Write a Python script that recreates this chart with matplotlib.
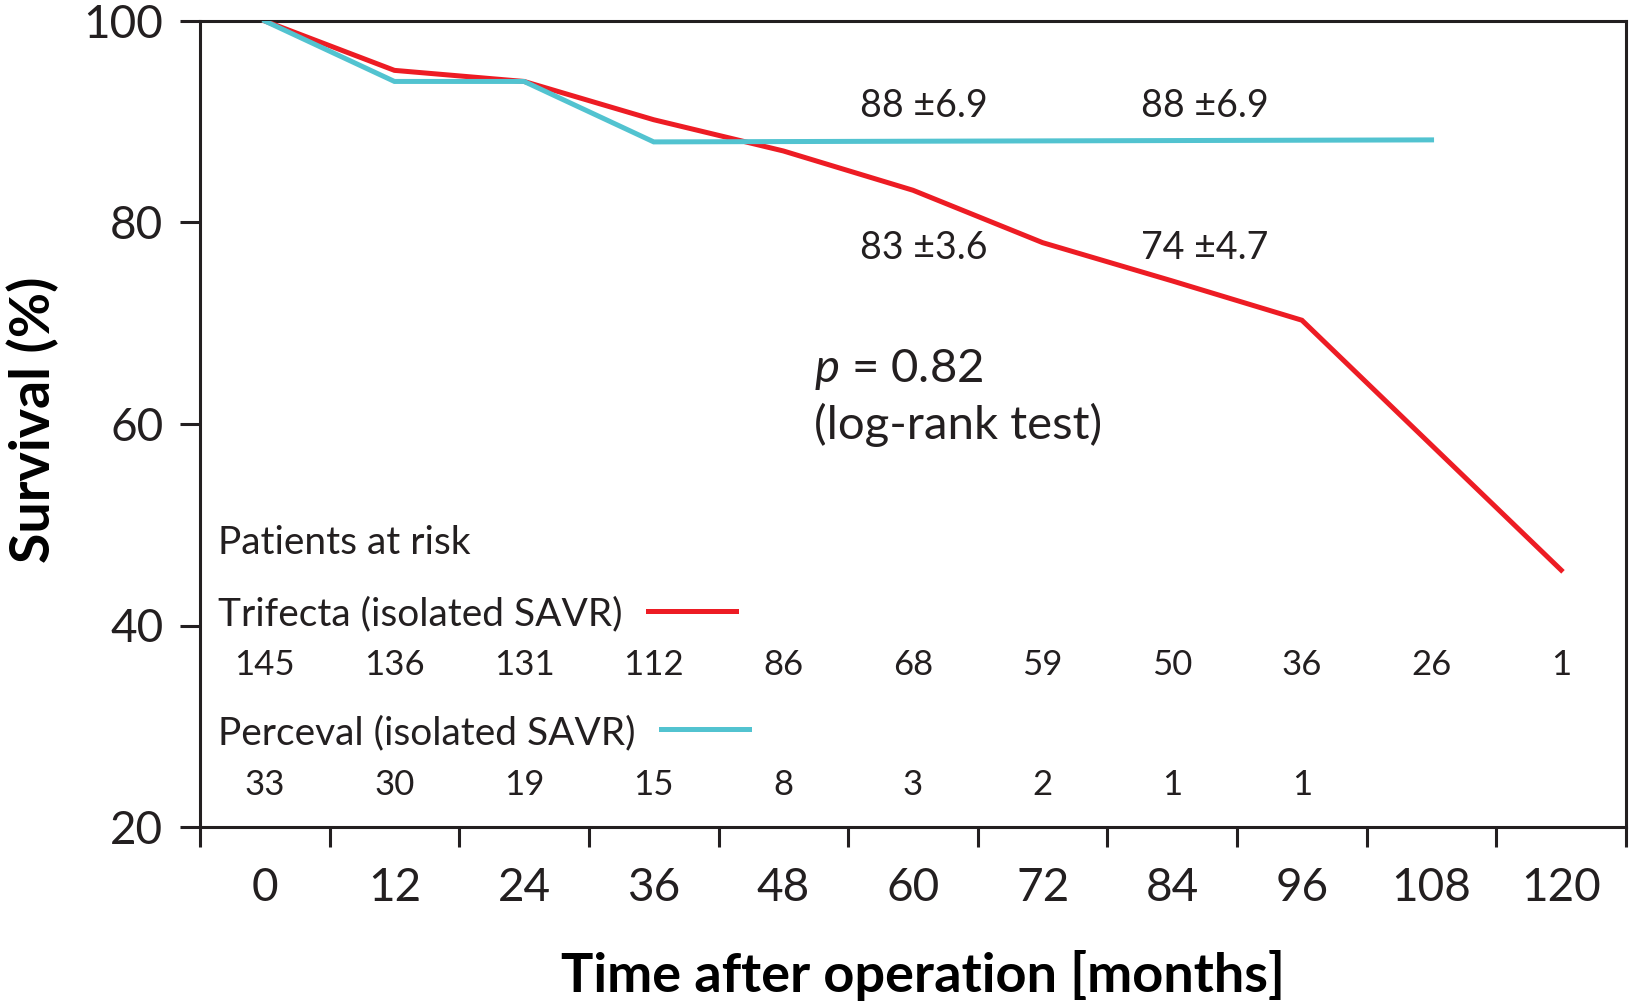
import matplotlib
matplotlib.use('Agg')
import matplotlib.pyplot as plt
from matplotlib.lines import Line2D
from matplotlib.ticker import FixedLocator, NullFormatter

# Kaplan-Meier curves (months, survival %)
trifecta_months = [0, 12, 24, 36, 48, 60, 72, 84, 96, 120]
trifecta_surv = [100, 95.1, 94.0, 90.2, 87.1, 83.2, 78.0, 74.2, 70.3, 45.5]
perceval_months = [0, 12, 24, 36, 108]
perceval_surv = [100, 94.0, 94.0, 88.0, 88.2]

# patients at risk
risk_months = [0, 12, 24, 36, 48, 60, 72, 84, 96, 108, 120]
trifecta_risk = [145, 136, 131, 112, 86, 68, 59, 50, 36, 26, 1]
perceval_risk = [33, 30, 19, 15, 8, 3, 2, 1, 1]

# survival estimates with SE at 5 and 7 years
est_months = [61, 87]
perceval_est = ['88 \u00b16.9', '88 \u00b16.9']
trifecta_est = ['83 \u00b13.6', '74 \u00b14.7']

RED = '#ed1c24'
CYAN = '#52c3d0'
INK = '#231f20'

plt.rcParams['font.family'] = 'Lato'
plt.rcParams['mathtext.fontset'] = 'custom'
plt.rcParams['mathtext.rm'] = 'Lato'
plt.rcParams['mathtext.it'] = 'Lato:italic'
plt.rcParams['text.color'] = INK

W, H = 1629, 1001
fig = plt.figure(figsize=(W / 100, H / 100), dpi=100)
ax = fig.add_axes([200 / W, 1 - 827 / H, 1426 / W, 806 / H])

ax.plot(trifecta_months, trifecta_surv, color=RED, lw=3.6, solid_joinstyle='miter', zorder=3)
ax.plot(perceval_months, perceval_surv, color=CYAN, lw=3.6, solid_joinstyle='miter', zorder=3)

ax.set_xlim(-6, 126)
ax.set_ylim(20, 100)

for s in ax.spines.values():
    s.set_linewidth(2.2)
    s.set_color(INK)

ax.set_yticks([20, 40, 60, 80, 100])
ax.tick_params(axis='y', which='major', length=14.4, width=2.2, pad=12,
               labelsize=33, colors=INK)
ax.set_xticks(risk_months)
ax.xaxis.set_minor_locator(FixedLocator(list(range(-6, 127, 12))))
ax.xaxis.set_minor_formatter(NullFormatter())
ax.tick_params(axis='x', which='major', length=0, pad=29, labelsize=33, labelcolor=INK)
ax.tick_params(axis='x', which='minor', length=14.4, width=2.2, color=INK)

ax.set_xlabel('Time after operation [months]', fontsize=39, fontweight='bold')
ax.xaxis.set_label_coords(0.507, -0.153)
ax.set_ylabel('Survival (%)', fontsize=40, fontweight='bold')
ax.yaxis.set_label_coords(-0.099, 0.505)

for m, txt in zip(est_months, perceval_est):
    ax.text(m, 90.5, txt, fontsize=27, ha='center', va='baseline')
for m, txt in zip(est_months, trifecta_est):
    ax.text(m, 76.4, txt, fontsize=27, ha='center', va='baseline')

ax.text(50.8, 64.2, '$p$ = 0.82', fontsize=34, ha='left', va='baseline')
ax.text(50.8, 58.5, '(log-rank test)', fontsize=34, ha='left', va='baseline')

ax.text(-4.3, 47.1, 'Patients at risk', fontsize=28, ha='left', va='baseline')
t_tri = ax.text(-4.3, 40.0, 'Trifecta (isolated SAVR)', fontsize=28, ha='left', va='baseline')
t_per = ax.text(-4.3, 28.2, 'Perceval (isolated SAVR)', fontsize=28, ha='left', va='baseline')

for m, n in zip(risk_months, trifecta_risk):
    ax.text(m, 35.1, str(n), fontsize=25, ha='center', va='baseline')
for m, n in zip(risk_months, perceval_risk):
    ax.text(m, 23.2, str(n), fontsize=25, ha='center', va='baseline')

# legend keys drawn just right of the group labels
fig.canvas.draw()
renderer = fig.canvas.get_renderer()
inv = fig.transFigure.inverted()
for t, color in [(t_tri, RED), (t_per, CYAN)]:
    bb = t.get_window_extent(renderer)
    base = ax.transData.transform((0, t.get_position()[1]))[1]
    x0, x1 = bb.x1 + 25, bb.x1 + 113
    y = base + 15
    (fx0, fy), (fx1, _) = inv.transform([(x0, y), (x1, y)])
    fig.add_artist(Line2D([fx0, fx1], [fy, fy], color=color, lw=3.6))

fig.savefig('out.png', dpi=100, facecolor='white')
